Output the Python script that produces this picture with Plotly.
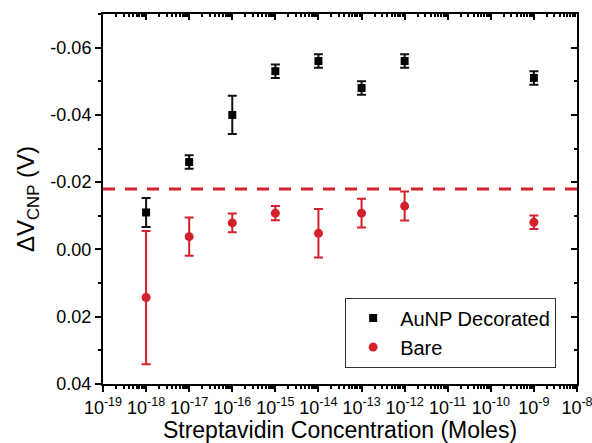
import plotly.graph_objects as go

# concentration (moles)
conc_aunp = [1e-18, 1e-17, 1e-16, 1e-15, 1e-14, 1e-13, 1e-12, 1e-9]
conc_bare = [1e-18, 1e-17, 1e-16, 1e-15, 1e-14, 1e-13, 1e-12, 1e-9]

# delta V_CNP (V) and error bars
dv_aunp = [-0.011, -0.026, -0.040, -0.053, -0.056, -0.048, -0.056, -0.051]
err_aunp = [0.0043, 0.0020, 0.0057, 0.0020, 0.0020, 0.0020, 0.0020, 0.0020]

dv_bare = [0.0143, -0.0038, -0.0079, -0.0108, -0.0048, -0.0108, -0.0129, -0.0081]
err_bare = [0.0198, 0.0057, 0.0028, 0.0021, 0.0072, 0.0043, 0.0043, 0.0020]

threshold = -0.018

x_tickvals = [10.0 ** e for e in range(-19, -7)]
x_ticktext = ["10<sup>%d</sup>" % e for e in range(-19, -7)]
y_tickvals = [-0.06, -0.04, -0.02, 0.00, 0.02, 0.04]
y_ticktext = ["-0.06", "-0.04", "-0.02", "0.00", "0.02", "0.04"]

RED = "#d4202a"
FONT = "Liberation Sans, Arial, sans-serif"

fig = go.Figure()

fig.add_trace(go.Scatter(
    x=conc_aunp, y=dv_aunp, mode="markers", name="AuNP Decorated",
    marker=dict(symbol="square", size=8, color="black"),
    error_y=dict(type="data", array=err_aunp, color="#111111", thickness=2, width=4.5),
))
fig.add_trace(go.Scatter(
    x=conc_bare, y=dv_bare, mode="markers", name="Bare",
    marker=dict(symbol="circle", size=9, color=RED),
    error_y=dict(type="data", array=err_bare, color=RED, thickness=2, width=4.5),
))
# invisible copy on the mirror axes so the top/right frame with inner ticks is drawn
fig.add_trace(go.Scatter(
    x=conc_aunp, y=dv_aunp, xaxis="x2", yaxis="y2", mode="markers",
    marker=dict(opacity=0), showlegend=False, hoverinfo="skip",
))

fig.add_hline(y=threshold, line=dict(color=RED, width=3, dash="12px,10px"))

# tiny padding so the 10^-8 end tick survives float rounding
xrange = [-19.0001, -7.9999]
yrange = [0.04, -0.07]

fig.update_layout(
    width=592, height=443,
    margin=dict(l=103, r=15, t=14, b=59),
    paper_bgcolor="white", plot_bgcolor="white",
    font=dict(family=FONT, size=18, color="black"),
    showlegend=True,
    legend=dict(
        x=0.956, xanchor="right", y=0.139, yanchor="middle",
        bordercolor="#333333", borderwidth=1, bgcolor="white",
        font=dict(size=20), tracegroupgap=0, itemwidth=44,
    ),
    xaxis=dict(
        type="log", range=xrange, showgrid=False, zeroline=False, automargin=False,
        showline=True, linecolor="black", linewidth=2,
        ticks="outside", ticklen=6, tickwidth=1.5, tickcolor="black",
        tickmode="array", tickvals=x_tickvals, ticktext=x_ticktext,
        ticklabeloverflow="allow",
        minor=dict(ticks="outside", ticklen=3, tickcolor="black", dtick="D1", showgrid=False),
        title=dict(text="Streptavidin Concentration (Moles)", font=dict(size=23), standoff=8),
    ),
    yaxis=dict(
        range=yrange, showgrid=False, zeroline=False, automargin=False,
        showline=True, linecolor="black", linewidth=2,
        ticks="outside", ticklen=6, tickwidth=1.5, tickcolor="black",
        tickmode="array", tickvals=y_tickvals, ticktext=y_ticktext,
        minor=dict(ticks="outside", ticklen=3, tickcolor="black", tick0=0, dtick=0.01, showgrid=False),
        title=dict(text="ΔV<sub>CNP</sub> (V)", font=dict(size=24), standoff=9),
    ),
    xaxis2=dict(
        type="log", range=xrange, overlaying="x", side="top", anchor="y", automargin=False,
        showgrid=False, zeroline=False, showline=True, linecolor="black", linewidth=2,
        ticks="inside", ticklen=6, tickwidth=1.5, tickcolor="black",
        tickmode="array", tickvals=x_tickvals, showticklabels=False,
        minor=dict(ticks="inside", ticklen=3, tickcolor="black", dtick="D1", showgrid=False),
    ),
    yaxis2=dict(
        range=yrange, overlaying="y", side="right", anchor="x", automargin=False,
        showgrid=False, zeroline=False, showline=True, linecolor="black", linewidth=2,
        ticks="inside", ticklen=6, tickwidth=1.5, tickcolor="black",
        tickmode="array", tickvals=y_tickvals, showticklabels=False,
        minor=dict(ticks="inside", ticklen=3, tickcolor="black", tick0=0, dtick=0.01, showgrid=False),
    ),
)

fig.write_html(
    "out.html",
    config={"displayModeBar": False},
    post_script="document.body.style.margin='0';",
)
